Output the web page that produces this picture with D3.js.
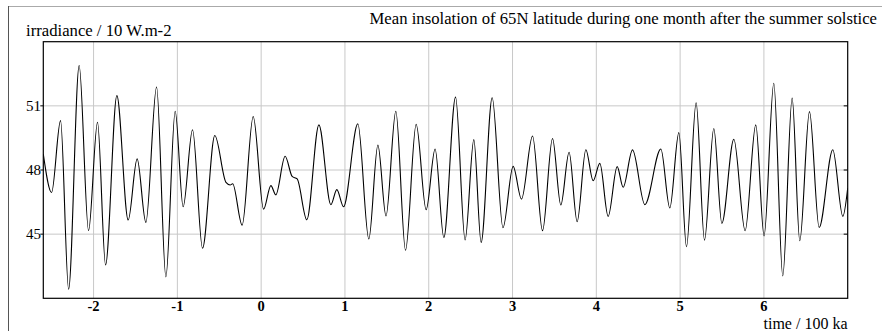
<!DOCTYPE html>
<html><head><meta charset="utf-8">
<script src="https://cdn.jsdelivr.net/npm/d3@7"></script>
<style>
html,body{margin:0;padding:0;background:#fff;}
svg{display:block;font-family:"Liberation Serif","DejaVu Serif",serif;}
</style></head>
<body><svg id="c" width="882" height="331"></svg>
<script>
const times = [-2.60,-2.501,-2.394,-2.298,-2.172,-2.060,-1.953,-1.857,-1.722,-1.587,-1.480,-1.376,-1.248,-1.137,-1.026,-0.931,-0.819,-0.700,-0.553,-0.42,-0.37,-0.34,-0.227,-0.095,0.029,0.116,0.175,0.286,0.37,0.43,0.545,0.689,0.832,0.903,0.983,1.154,1.285,1.393,1.49,1.607,1.723,1.850,1.969,2.076,2.180,2.320,2.434,2.538,2.625,2.757,2.886,3.007,3.107,3.239,3.358,3.477,3.576,3.675,3.771,3.875,3.962,4.042,4.141,4.249,4.320,4.432,4.579,4.770,4.877,4.985,5.076,5.191,5.291,5.402,5.498,5.641,5.776,5.903,6.002,6.118,6.225,6.337,6.428,6.544,6.659,6.822,6.942,7.0];
const irradiance = [48.75,46.95,50.31,42.42,52.89,45.16,50.23,43.56,51.48,45.66,48.52,45.55,51.88,43.0,50.75,46.28,49.88,44.34,49.61,47.42,47.30,47.36,45.42,50.5,46.17,47.27,46.84,48.64,47.7,47.58,45.67,50.11,46.38,47.08,46.28,50.16,44.77,49.17,45.85,50.75,44.25,50.14,46.14,48.98,44.84,51.41,44.73,49.42,44.61,51.38,45.3,48.17,46.64,49.59,45.16,49.47,46.36,48.83,45.58,48.95,47.5,48.31,45.83,48.16,47.19,48.94,46.38,48.98,46.22,49.75,44.41,51.14,44.72,49.94,45.5,49.44,45.16,50.11,44.92,52.06,43.05,51.36,44.69,50.73,45.31,48.95,45.83,47.15];
const xTicks = [-2,-1,0,1,2,3,4,5,6];
const yTicks = [45,48,51];
const title = "Mean insolation of 65N latitude during one month after the summer solstice";
const yLabel = "irradiance / 10 W.m-2";
const xLabel = "time / 100 ka";

const svg = d3.select("#c");
const L = 43.3, R = 847.7, T = 41.7, B = 298.3;
const x = d3.scaleLinear().domain([-2.6, 7.0]).range([L, R]);
const y = d3.scaleLinear().domain([42, 54]).range([B, T]);

// outer frame
svg.append("line").attr("x1",8).attr("x2",882).attr("y1",6.5).attr("y2",6.5).attr("stroke","#aaa").attr("stroke-width",1);
svg.append("line").attr("x1",8.5).attr("x2",8.5).attr("y1",6).attr("y2",331).attr("stroke","#555").attr("stroke-width",1);

// grid
const g = svg.append("g");
g.selectAll(".vx").data(xTicks).join("line")
  .attr("x1",d=>x(d)).attr("x2",d=>x(d)).attr("y1",T).attr("y2",B)
  .attr("stroke","#c8c8c8").attr("stroke-width",1);
g.selectAll(".hy").data(yTicks).join("line")
  .attr("x1",L).attr("x2",R).attr("y1",d=>y(d)).attr("y2",d=>y(d))
  .attr("stroke","#c8c8c8").attr("stroke-width",1);

// y ticks left (outward) and right (inward)
g.selectAll(".tl").data(yTicks).join("line")
  .attr("x1",L-3).attr("x2",L).attr("y1",d=>y(d)).attr("y2",d=>y(d)).attr("stroke","#000");
g.selectAll(".tr").data(yTicks).join("line")
  .attr("x1",R-4).attr("x2",R).attr("y1",d=>y(d)).attr("y2",d=>y(d)).attr("stroke","#000");

// clip
svg.append("clipPath").attr("id","clip").append("rect").attr("x",L).attr("y",T).attr("width",R-L).attr("height",B-T);

const pts = times.map((t,i)=>[t, irradiance[i]]);
const line = d3.line().x(d=>x(d[0])).y(d=>y(d[1])).curve(d3.curveMonotoneX);
svg.append("path").datum(pts).attr("d",line).attr("fill","none")
  .attr("stroke","#000").attr("stroke-width",1.1).attr("clip-path","url(#clip)");

// frame
svg.append("rect").attr("x",L).attr("y",T).attr("width",R-L).attr("height",B-T)
  .attr("fill","none").attr("stroke","#000").attr("stroke-width",1.2);

// labels
svg.selectAll(".xl").data(xTicks).join("text")
  .attr("x",d=>x(d)).attr("y",311).attr("text-anchor","middle")
  .attr("font-size",14.5).attr("font-weight","bold").text(d=>d);
svg.selectAll(".yl").data(yTicks).join("text")
  .attr("x",41).attr("y",d=>y(d)+5).attr("text-anchor","end")
  .attr("font-size",15).text(d=>d);
svg.append("text").attr("x",26).attr("y",36).attr("font-size",16.7).text(yLabel);
svg.append("text").attr("x",877).attr("y",24).attr("text-anchor","end").attr("font-size",16.7).text(title);
svg.append("text").attr("x",847.5).attr("y",328.5).attr("text-anchor","end").attr("font-size",16).text(xLabel);
</script></body></html>
